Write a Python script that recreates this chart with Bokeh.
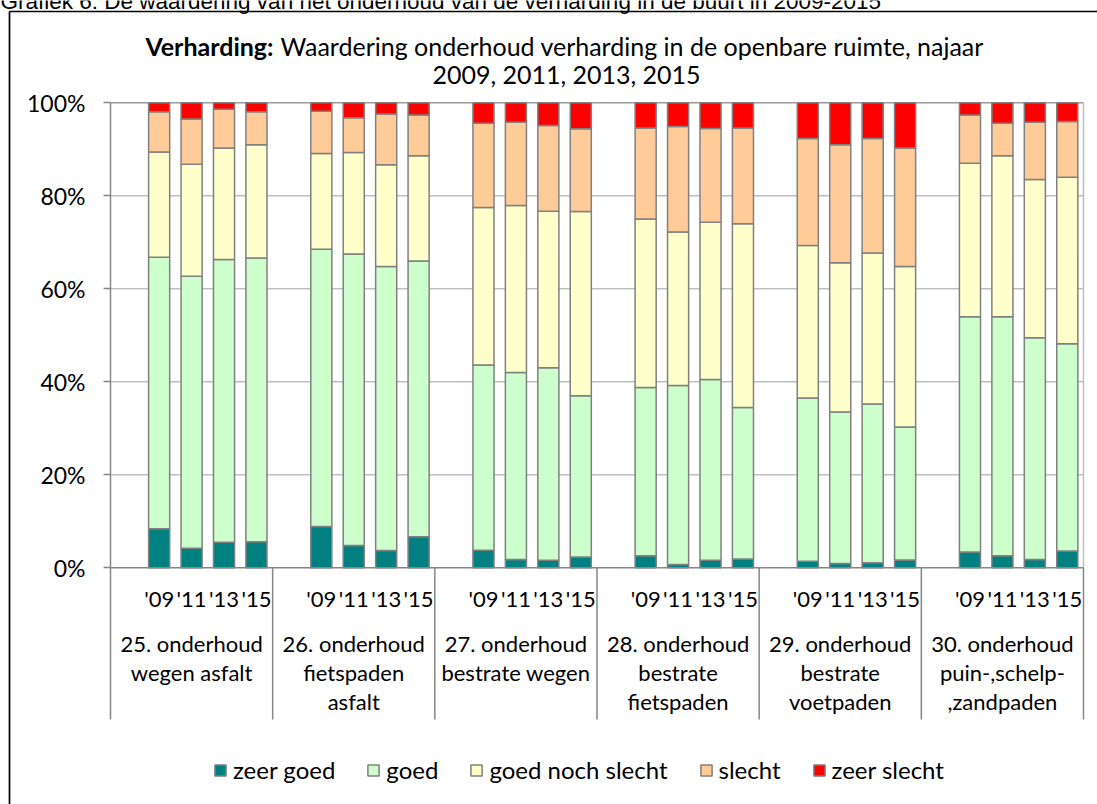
from bokeh.plotting import figure
from bokeh.models import (ColumnDataSource, Range1d, FixedTicker, PrintfTickFormatter)
from bokeh.core.properties import value
from bokeh.embed import file_html
from bokeh.resources import INLINE

# ---------------- data ----------------
groups = ["25. onderhoud\nwegen asfalt",
          "26. onderhoud\nfietspaden\nasfalt",
          "27. onderhoud\nbestrate wegen",
          "28. onderhoud\nbestrate\nfietspaden",
          "29. onderhoud\nbestrate\nvoetpaden",
          "30. onderhoud\npuin-,schelp-\n,zandpaden"]
years = ["'09", "'11", "'13", "'15"]
series = ["zeer goed", "goed", "goed noch slecht", "slecht", "zeer slecht"]

# values in %, group-major (4 years per group)
zeer_goed = [8.4, 4.2, 5.5, 5.6,   8.9, 4.8, 3.7, 6.7,   3.8, 1.8, 1.6, 2.3,
             2.6, 0.7, 1.6, 1.9,   1.4, 0.9, 1.1, 1.7,   3.4, 2.6, 1.8, 3.6]
goed = [58.4, 58.5, 60.8, 61.0,   59.6, 62.7, 61.1, 59.3,   39.8, 40.2, 41.4, 34.7,
        36.2, 38.5, 38.9, 32.6,   35.1, 32.6, 34.1, 28.6,   50.6, 51.4, 47.7, 44.6]
goed_noch_slecht = [22.6, 24.1, 24.0, 24.4,   20.6, 21.8, 21.9, 22.6,   33.9, 35.9, 33.7, 39.6,
                    36.2, 33.0, 33.8, 39.5,   32.8, 32.1, 32.5, 34.5,   33.0, 34.6, 34.0, 35.8]
slecht = [8.7, 9.7, 8.3, 7.1,   9.1, 7.5, 10.9, 8.8,   18.1, 17.9, 18.4, 17.8,
          19.6, 22.7, 20.2, 20.6,   23.0, 25.4, 24.6, 25.5,   10.4, 7.0, 12.3, 12.0]
zeer_slecht = [1.9, 3.5, 1.4, 1.9,   1.8, 3.2, 2.4, 2.6,   4.4, 4.2, 4.9, 5.6,
               5.4, 5.1, 5.5, 5.4,   7.7, 9.0, 7.7, 9.7,   2.6, 4.4, 4.2, 4.0]

colors = ["#008080", "#CCFFCC", "#FFFFCC", "#FFCC99", "#FF0000"]
y_ticks = [0, 20, 40, 60, 80, 100]

caption = "Grafiek 6: De waardering van het onderhoud van de verharding in de buurt in 2009-2015"
title_bold = "Verharding:"
title_rest = "Waardering onderhoud verharding in de openbare ruimte, najaar"
title_line2 = "2009, 2011, 2013, 2015"

# ---------------- layout helpers (canvas px -> data) ----------------
W, H = 1097, 804
X0, XU = 110.0, 32.433      # canvas x of category axis start, px per slot
Y0, YU = 567.3, 4.65        # canvas y of 0 %, px per %
def dx(px):
    return (px - X0) / XU
def dy(py):
    return (Y0 - py) / YU

slots = 5
n_groups = len(groups)

p = figure(width=W, height=H, output_backend="svg", toolbar_location=None,
           x_axis_location=None, title=None,
           x_range=Range1d(dx(0), dx(W)), y_range=Range1d(dy(H), dy(0)),
           min_border_left=0, min_border_right=0, min_border_top=0, min_border_bottom=0)
p.outline_line_color = None
p.background_fill_color = "white"
p.border_fill_color = "white"

FONT = value("Lato")
AXIS_GREY = "#868686"
GRID_GREY = "#BFBFBF"

# bars
xs = [g * slots + k + 1.5 for g in range(n_groups) for k in range(len(years))]
src = ColumnDataSource(dict(x=xs, **{
    "zeer goed": zeer_goed, "goed": goed, "goed noch slecht": goed_noch_slecht,
    "slecht": slecht, "zeer slecht": zeer_slecht}))

# grid (only inside the plot area)
p.xgrid.visible = False
p.ygrid.visible = False
grid_y = y_ticks[1:-1]
plot_right = n_groups * slots
p.segment(x0=[0] * len(grid_y), y0=grid_y, x1=[plot_right] * len(grid_y), y1=grid_y,
          line_color=GRID_GREY, line_width=1.5)
p.segment(x0=[0], y0=[100], x1=[plot_right], y1=[100], line_color="#9A9A9A", line_width=1.5)
p.segment(x0=[plot_right], y0=[0], x1=[plot_right], y1=[100],
          line_color=GRID_GREY, line_width=1.5)

p.vbar_stack(series, x="x", width=0.65, source=src, fill_color=colors,
             line_color="#808080", line_width=1.5, legend_label=series)

# y axis, drawn at the start of the category axis
ax = p.yaxis[0]
ax.fixed_location = 0
ax.ticker = FixedTicker(ticks=y_ticks)
ax.formatter = PrintfTickFormatter(format="%d%%")
ax.bounds = (0, 100)
ax.axis_line_color = AXIS_GREY
ax.axis_line_width = 1.5
ax.major_tick_line_color = AXIS_GREY
ax.major_tick_line_width = 1.5
ax.major_tick_out = 7
ax.major_tick_in = 0
ax.minor_tick_line_color = None
ax.major_label_text_font = "Lato"
ax.major_label_text_font_size = "23px"
ax.major_label_text_color = "black"
ax.major_label_standoff = 18

# category axis: base line and separators
p.segment(x0=[0], y0=[0], x1=[plot_right], y1=[0], line_color=AXIS_GREY, line_width=1.5)
sep_x = [g * slots for g in range(n_groups + 1)]
p.segment(x0=sep_x, y0=[0] * len(sep_x), x1=sep_x, y1=[dy(719)] * len(sep_x),
          line_color=AXIS_GREY, line_width=1.5)

# year labels and group labels
p.text(x=xs, y=[dy(598)] * len(xs), text=years * n_groups, text_font=FONT,
       text_font_size="22px", text_align="center", text_baseline="middle", text_color="black")
p.text(x=[g * slots + 2.5 for g in range(n_groups)], y=[dy(629)] * n_groups, text=groups,
       text_font=FONT, text_font_size="22px", text_align="center", text_baseline="top",
       text_line_height=1.08, text_color="black")

# titles
p.text(x=[dx(273)], y=[dy(45)], text=[title_bold], text_font=FONT, text_font_style="bold",
       text_font_size="25px", text_align="right", text_baseline="middle", text_color="black")
p.text(x=[dx(280)], y=[dy(45)], text=[title_rest], text_font=FONT,
       text_font_size="25px", text_align="left", text_baseline="middle", text_color="black")
p.text(x=[dx(566)], y=[dy(73)], text=[title_line2], text_font=FONT,
       text_font_size="25px", text_align="center", text_baseline="middle", text_color="black")

# caption (cut off at the top as in the source)
p.text(x=[dx(0)], y=[dy(1)], text=[caption], text_font=value("Liberation Sans"),
       text_font_size="22.5px", text_align="left", text_baseline="middle", text_color="black")

# outer chart border (left and top edges visible)
p.segment(x0=[dx(9)], y0=[dy(11)], x1=[dx(9)], y1=[dy(H + 5)], line_color="black", line_width=1.7)
p.segment(x0=[dx(9)], y0=[dy(11)], x1=[dx(W + 5)], y1=[dy(11)], line_color="black", line_width=1.7)

# legend
lg = p.legend[0]
lg.orientation = "horizontal"
lg.location = (213, 20)
lg.background_fill_alpha = 0
lg.border_line_alpha = 0
lg.padding = 0
lg.margin = 0
lg.glyph_width = 14
lg.glyph_height = 14
lg.label_height = 24
lg.label_standoff = 6
lg.spacing = 31
lg.label_text_font = "Lato"
lg.label_text_font_size = "24px"
lg.label_text_color = "black"

open("out.html", "w").write(file_html(p, INLINE))
